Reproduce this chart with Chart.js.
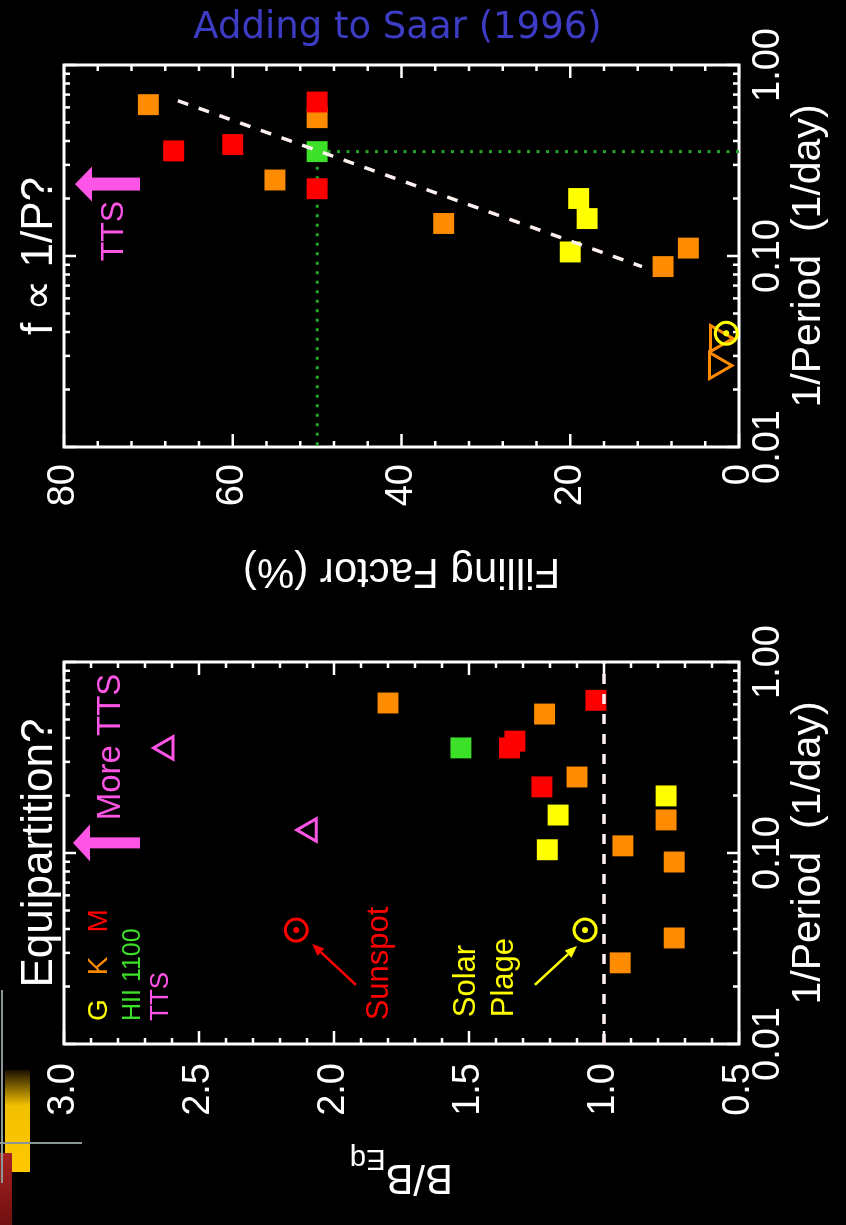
<!DOCTYPE html>
<html>
<head>
<meta charset="utf-8">
<title>Adding to Saar (1996)</title>
<script src="https://cdn.jsdelivr.net/npm/chart.js@4.4.1/dist/chart.umd.min.js"></script>
<style>
  html, body { margin: 0; padding: 0; background: #000; overflow: hidden; }
  body { width: 846px; height: 1225px; position: relative; }
  /* the two panels are laid out landscape and turned a quarter turn */
  #figure { position: absolute; left: 0; top: 0; width: 1225px; height: 846px;
            transform-origin: 0 0; transform: translate(0, 1225px) rotate(-90deg); }
  #figure canvas { position: absolute; left: 0; top: 0; }
  #heading { position: absolute; left: 0; top: 1px; width: 795px; text-align: center;
             font: 37px/50px "DejaVu Sans", Verdana, sans-serif; color: #3c3cc4; }
  .deco { position: absolute; }
</style>
</head>
<body>
<div id="figure">
  <canvas id="ratioChart" width="1225" height="846"></canvas>
  <canvas id="fillChart" width="1225" height="846"></canvas>
</div>
<div id="heading">Adding to Saar (1996)</div>
<div class="deco" style="left:5px;top:1070px;width:25px;height:102px;background:linear-gradient(#1a1000,#f2c000 35%,#ffc800)"></div>
<div class="deco" style="left:0;top:1153px;width:12px;height:72px;background:linear-gradient(#a82222,#701010)"></div>
<div class="deco" style="left:1px;top:990px;width:2px;height:193px;background:#8c9898"></div>
<div class="deco" style="left:0;top:1142px;width:82px;height:2px;background:#8c9898"></div>
<script>
const FONT = '"Liberation Sans", Arial, Helvetica, sans-serif';
const INK = '#ffffff';
const ORANGE = '#ff8c00', RED = '#ff0000', YELLOW = '#ffff00', GREEN = '#3ce028', MAGENTA = '#ff55e6';

// 1/Period axis (1/day), shared by both panels
const periodTicks = [0.01, 0.1, 1];

// Filling factor (%) against 1/Period
const ffOrangePeriod = [0.62, 0.53, 0.25, 0.148, 0.11, 0.088];
const ffOrangeFill   = [70, 50, 55, 35, 6, 9];
const ffLimitPeriod  = [0.037, 0.0267];      // upper limits
const ffLimitFill    = [2.5, 2.6];
const ffRedPeriod    = [0.355, 0.383, 0.64, 0.225];
const ffRedFill      = [67, 60, 50, 50];
const ffYellowPeriod = [0.20, 0.157, 0.105];
const ffYellowFill   = [19, 18, 20];
const ffGreenPeriod  = [0.352];
const ffGreenFill    = [50];
const ffSunPeriod    = [0.0394];
const ffSunFill      = [1.5];
const ffFitPeriod    = [0.65, 0.088];        // f ~ 1/P trend
const ffFitFill      = [66.5, 11.5];
const ffGuidePeriod  = [0.352, 0.352, 0.01]; // dotted guide through HII 1100
const ffGuideFill    = [0, 50, 50];

// B/Beq against 1/Period
const bOrangePeriod = [0.61, 0.534, 0.25, 0.149, 0.109, 0.0897, 0.0359, 0.0266];
const bOrangeRatio  = [1.80, 1.22, 1.10, 0.77, 0.93, 0.74, 0.74, 0.94];
const bRedPeriod    = [0.355, 0.385, 0.222, 0.63];
const bRedRatio     = [1.35, 1.33, 1.23, 1.03];
const bYellowPeriod = [0.199, 0.158, 0.104];
const bYellowRatio  = [0.77, 1.17, 1.21];
const bGreenPeriod  = [0.355];
const bGreenRatio   = [1.53];
const bTTSPeriod    = [0.355, 0.132];        // lower limits
const bTTSRatio     = [2.62, 2.09];
const sunspotPeriod = [0.0395], sunspotRatio = [2.14];
const plagePeriod   = [0.0395], plageRatio   = [1.07];
const equiPeriod    = [0.01, 1];
const equiRatio     = [1.0, 1.0];

const pts = (xs, ys) => xs.map((x, i) => ({x, y: ys[i]}));

function squares(xs, ys, color) {
  return {data: pts(xs, ys), pointStyle: 'rect', pointRadius: 14.8, pointBorderWidth: 0,
          pointBackgroundColor: color, pointBorderColor: color, clip: false};
}
function openMarks(xs, ys, color, style, radius, rotation) {
  return {data: pts(xs, ys), pointStyle: style, pointRadius: radius, pointRotation: rotation || 0,
          pointBorderWidth: 3, pointBorderColor: color, pointBackgroundColor: 'rgba(0,0,0,0)', clip: false};
}
function sunDot(xs, ys, color) {
  return {data: pts(xs, ys), pointStyle: 'circle', pointRadius: 3, pointBorderWidth: 0,
          pointBackgroundColor: color, clip: false};
}
function trace(xs, ys, color, width, dash) {
  return {data: pts(xs, ys), showLine: true, borderColor: color, borderWidth: width, borderDash: dash,
          pointRadius: 0, fill: false, clip: false};
}
// listed bottom-most first
function stack(list) { return list.map((d, i) => Object.assign(d, {order: list.length - i})); }

function line(ctx, x0, y0, x1, y1) { ctx.beginPath(); ctx.moveTo(x0, y0); ctx.lineTo(x1, y1); ctx.stroke(); }

function framePlugin(yMin, yMax, yMajor, yMinor) {
  return {
    id: 'frameTicks',
    beforeDatasetsDraw(chart) {
      const {ctx, chartArea: a, scales: {x, y}} = chart;
      ctx.save();
      ctx.strokeStyle = INK;
      ctx.lineWidth = 2.5;
      for (let e = -2; e <= 0; e++) {
        for (let k = 1; k <= 9; k++) {
          const v = k * Math.pow(10, e);
          if (v > 1.0001) break;
          const p = x.getPixelForValue(v);
          const len = k === 1 ? 12 : 6;
          line(ctx, p, a.bottom, p, a.bottom - len);
          line(ctx, p, a.top, p, a.top + len);
        }
      }
      const n = Math.round((yMax - yMin) / yMinor);
      for (let i = 0; i <= n; i++) {
        const v = yMin + i * yMinor;
        const q = v / yMajor;
        const len = Math.abs(q - Math.round(q)) < 1e-6 ? 13 : 6;
        const p = y.getPixelForValue(v);
        line(ctx, a.left, p, a.left + len, p);
        line(ctx, a.right, p, a.right - len, p);
      }
      ctx.lineWidth = 3;
      ctx.strokeRect(a.left, a.top, a.right - a.left, a.bottom - a.top);
      ctx.restore();
    }
  };
}

function upArrow(ctx, tx, ty, headLen, headHalf, total, shaftHalf) {
  ctx.beginPath();
  ctx.moveTo(tx, ty);
  ctx.lineTo(tx + headHalf, ty + headLen);
  ctx.lineTo(tx + shaftHalf, ty + headLen);
  ctx.lineTo(tx + shaftHalf, ty + total);
  ctx.lineTo(tx - shaftHalf, ty + total);
  ctx.lineTo(tx - shaftHalf, ty + headLen);
  ctx.lineTo(tx - headHalf, ty + headLen);
  ctx.closePath();
  ctx.fill();
}
function pointer(ctx, x0, y0, x1, y1, color) {
  ctx.strokeStyle = color; ctx.fillStyle = color; ctx.lineWidth = 2.5;
  const ang = Math.atan2(y1 - y0, x1 - x0), h = 12, w = 5;
  const bx = x1 - h * Math.cos(ang), by = y1 - h * Math.sin(ang);
  line(ctx, x0, y0, bx, by);
  ctx.beginPath();
  ctx.moveTo(x1, y1);
  ctx.lineTo(bx + w * Math.sin(ang), by - w * Math.cos(ang));
  ctx.lineTo(bx - w * Math.sin(ang), by + w * Math.cos(ang));
  ctx.closePath(); ctx.fill();
}
function text(ctx, str, x, y, color, size, align) {
  ctx.font = size + 'px ' + FONT;
  ctx.fillStyle = color;
  ctx.textAlign = align || 'center';
  ctx.textBaseline = 'middle';
  ctx.fillText(str, x, y);
}

function periodAxis() {
  return {
    type: 'logarithmic', position: 'bottom', min: 0.01, max: 1,
    afterBuildTicks: s => { s.ticks = periodTicks.map(v => ({value: v})); },
    afterFit: s => { s.height = 94; },
    grid: {display: false, drawTicks: false}, border: {display: false},
    ticks: {color: INK, font: {family: FONT, size: 38}, padding: 7, maxRotation: 0, minRotation: 0,
            autoSkip: false, callback: v => Number(v).toFixed(2)},
    title: {display: true, text: '1/Period  (1/day)', color: INK, font: {family: FONT, size: 41}, padding: 0}
  };
}

const common = {
  responsive: false, animation: false, events: [],
  plugins: {legend: {display: false}, tooltip: {enabled: false}, title: {display: false}}
};

// ---- right panel: filling factor ----
const fillAnno = {
  id: 'fillAnno',
  afterDatasetsDraw(chart) {
    const {ctx, chartArea: a, scales: {x, y}} = chart;
    ctx.save();
    text(ctx, 'f \u221D 1/P?', (a.left + a.right) / 2, 40, INK, 44);
    ctx.fillStyle = MAGENTA;
    upArrow(ctx, x.getPixelForValue(0.238), y.getPixelForValue(78.7), 17, 17.5, 65, 6.5);
    text(ctx, 'TTS', x.getPixelForValue(0.135), y.getPixelForValue(74.1), MAGENTA, 32);
    ctx.restore();
  }
};

new Chart(document.getElementById('fillChart'), {
  type: 'scatter',
  data: {datasets: stack([
    trace(ffGuidePeriod, ffGuideFill, '#26a826', 3, [3, 6.5]),
    squares(ffOrangePeriod, ffOrangeFill, ORANGE),
    squares(ffRedPeriod, ffRedFill, RED),
    squares(ffYellowPeriod, ffYellowFill, YELLOW),
    squares(ffGreenPeriod, ffGreenFill, GREEN),
    openMarks(ffLimitPeriod, ffLimitFill, ORANGE, 'triangle', 15, 180),
    openMarks(ffSunPeriod, ffSunFill, YELLOW, 'circle', 11),
    sunDot(ffSunPeriod, ffSunFill, YELLOW),
    trace(ffFitPeriod, ffFitFill, '#fff0f0', 3.5, [11, 11])
  ])},
  options: Object.assign({}, common, {
    layout: {padding: {left: 629, right: 65, top: 64, bottom: 13}},
    scales: {
      x: periodAxis(),
      y: {
        type: 'linear', min: 0, max: 80,
        afterFit: s => { s.width = 149; },
        grid: {display: false, drawTicks: false}, border: {display: false},
        ticks: {stepSize: 20, color: INK, font: {family: FONT, size: 38}, padding: 17},
        title: {display: true, text: 'Filling Factor (%)', color: INK, font: {family: FONT, size: 42}, padding: 0}
      }
    }
  }),
  plugins: [framePlugin(0, 80, 20, 4), fillAnno]
});

// ---- left panel: B / B_eq ----
const ratioAnno = {
  id: 'ratioAnno',
  afterDatasetsDraw(chart) {
    const {ctx, chartArea: a, scales: {x, y}} = chart;
    const X = v => x.getPixelForValue(v), Y = v => y.getPixelForValue(v);
    ctx.save();
    text(ctx, 'Equipartition?', (a.left + a.right) / 2, 40, INK, 44);
    // axis title with subscript
    ctx.save();
    ctx.translate(0, (a.top + a.bottom) / 2);
    ctx.rotate(-Math.PI / 2);
    ctx.fillStyle = INK; ctx.textBaseline = 'alphabetic'; ctx.textAlign = 'left';
    ctx.font = '42px ' + FONT; const w1 = ctx.measureText('B/B').width;
    ctx.font = '29px ' + FONT; const w2 = ctx.measureText('Eq').width;
    const s = -(w1 + w2) / 2;
    ctx.font = '42px ' + FONT; ctx.fillText('B/B', s, 60);
    ctx.font = '29px ' + FONT; ctx.fillText('Eq', s + w1, 75);
    ctx.restore();

    ctx.fillStyle = MAGENTA;
    upArrow(ctx, X(0.113), Y(2.967), 17, 18.5, 67, 5.5);
    text(ctx, 'More TTS', X(0.359), Y(2.826), MAGENTA, 33);

    // group key
    ctx.font = '28px ' + FONT; ctx.textAlign = 'left'; ctx.textBaseline = 'middle';
    let cx = X(0.0132);
    const ky = Y(2.87);
    [['G', YELLOW], ['K', ORANGE], ['M', RED]].forEach(([t, c]) => {
      ctx.fillStyle = c; ctx.fillText(t, cx, ky); cx += ctx.measureText(t).width + 24;
    });
    text(ctx, 'HII 1100', X(0.0132), Y(2.744), GREEN, 25, 'left');
    text(ctx, 'TTS', X(0.0132), Y(2.641), MAGENTA, 26, 'left');

    text(ctx, 'Sunspot', X(0.0133), Y(1.83), RED, 31, 'left');
    pointer(ctx, X(0.0204), Y(1.919), X(0.0334), Y(2.081), RED);
    text(ctx, 'Solar', X(0.0138), Y(1.511), YELLOW, 31, 'left');
    text(ctx, 'Plage', X(0.0138), Y(1.37), YELLOW, 31, 'left');
    pointer(ctx, X(0.0204), Y(1.256), X(0.0326), Y(1.10), YELLOW);
    ctx.restore();
  }
};

new Chart(document.getElementById('ratioChart'), {
  type: 'scatter',
  data: {datasets: stack([
    squares(bOrangePeriod, bOrangeRatio, ORANGE),
    squares(bYellowPeriod, bYellowRatio, YELLOW),
    squares(bRedPeriod, bRedRatio, RED),
    squares(bGreenPeriod, bGreenRatio, GREEN),
    openMarks(bTTSPeriod, bTTSRatio, MAGENTA, 'triangle', 13, 0),
    openMarks(sunspotPeriod, sunspotRatio, RED, 'circle', 11),
    sunDot(sunspotPeriod, sunspotRatio, RED),
    openMarks(plagePeriod, plageRatio, YELLOW, 'circle', 11),
    sunDot(plagePeriod, plageRatio, YELLOW),
    trace(equiPeriod, equiRatio, '#fff0f0', 3.5, [10, 10])
  ])},
  options: Object.assign({}, common, {
    layout: {padding: {left: 81, right: 662, top: 64, bottom: 13}},
    scales: {
      x: periodAxis(),
      y: {
        type: 'linear', min: 0.5, max: 3.0,
        afterFit: s => { s.width = 100; },
        grid: {display: false, drawTicks: false}, border: {display: false},
        ticks: {stepSize: 0.5, color: INK, font: {family: FONT, size: 38}, padding: 19,
                callback: v => Number(v).toFixed(1)},
        title: {display: false}
      }
    }
  }),
  plugins: [framePlugin(0.5, 3.0, 0.5, 0.1), ratioAnno]
});
</script>
</body>
</html>
